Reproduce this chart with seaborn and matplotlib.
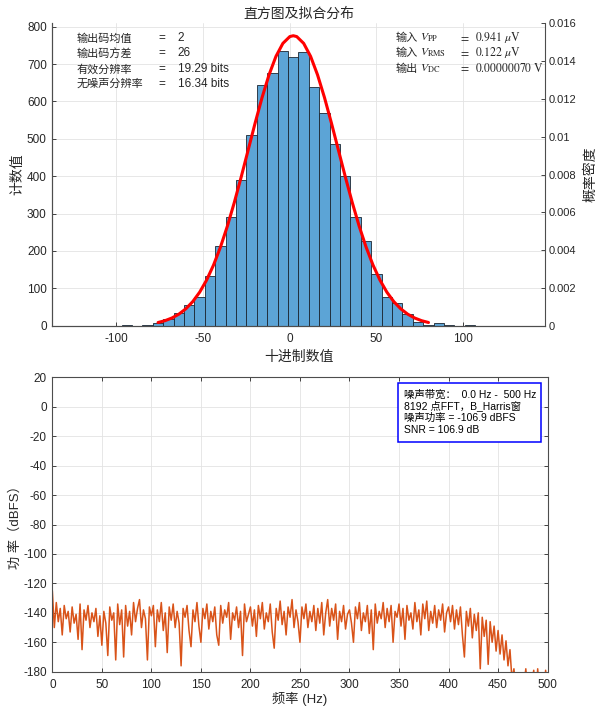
import numpy as np
import pandas as pd
import matplotlib
matplotlib.use('Agg')
import matplotlib.pyplot as plt
import seaborn as sns
from matplotlib.patches import Rectangle

# ---- histogram of output codes (counts, bin width 6) ----
bin_edges = list(range(-97, 108, 6))
bin_counts = [3, 0, 3, 7, 17, 34, 55, 78, 134, 212, 291, 390, 509, 644, 676, 736, 719,
              733, 638, 569, 485, 401, 291, 226, 138, 77, 61, 31, 10, 3, 8, 2, 0, 1]

# fitted normal curve (probability density, right axis)
fit_x = [-76, -72, -68, -64, -60, -56, -52, -48, -44, -40, -36, -32, -28, -24, -20, -16,
         -12, -8, -4, 0, 2, 4, 8, 12, 16, 20, 24, 28, 32, 36, 40, 44, 48, 52, 56, 60, 64,
         68, 72, 76, 80]
fit_pdf = [0.000170, 0.000267, 0.000409, 0.000612, 0.000894, 0.001275, 0.001775, 0.002415,
           0.003209, 0.004161, 0.005274, 0.006526, 0.007886, 0.009306, 0.010727, 0.012074,
           0.013273, 0.014250, 0.014940, 0.015299, 0.015344, 0.015299, 0.014940, 0.014250,
           0.013273, 0.012074, 0.010727, 0.009306, 0.007886, 0.006526, 0.005274, 0.004161,
           0.003209, 0.002415, 0.001775, 0.001275, 0.000894, 0.000612, 0.000409, 0.000267,
           0.000170]

stats_left = [('输出码均值', '2'), ('输出码方差', '26'),
              ('有效分辨率', '19.29 bits'), ('无噪声分辨率', '16.34 bits')]
stats_right = [('输入', r'$V_{\mathrm{PP}}$', r'$0.941\ \mu\mathrm{V}$'),
               ('输入', r'$V_{\mathrm{RMS}}$', r'$0.122\ \mu\mathrm{V}$'),
               ('输出', r'$V_{\mathrm{DC}}$', r'$0.00000070\ \mathrm{V}$')]

# ---- noise spectrum, one value every 2 Hz from 0 to 500 Hz ----
freq_hz = np.arange(0, 501, 2)
power_db = [
    -125, -150, -133, -146, -137, -155, -135, -144, -139, -153, -136, -147, -141, -158, -134,
    -165, -138, -145, -135, -150, -140, -146, -137, -156, -142,
    -162, -139, -147, -169, -136, -145, -140, -172, -134, -148, -138, -170, -135, -149, -139,
    -155, -133, -146, -137, -131, -150, -138, -144, -172, -136,
    -142, -135, -163, -138, -146, -133, -152, -140, -167, -136, -145, -134, -150, -139, -147,
    -176, -137, -143, -135, -152, -163, -138, -146, -133, -149,
    -160, -137, -144, -134, -151, -139, -146, -136, -155, -162, -135, -147, -138, -143, -133,
    -158, -140, -145, -136, -150, -139, -169, -134, -146, -141,
    -136, -149, -138, -156, -135, -144, -133, -151, -140, -146, -134, -153, -164, -137, -145,
    -132, -148, -139, -155, -136, -143, -131, -150, -138, -146,
    -160, -136, -144, -134, -150, -139, -146, -135, -152, -137, -147, -133, -155, -140, -131,
    -149, -137, -145, -134, -158, -139, -146, -135, -151, -141,
    -138, -147, -160, -136, -144, -133, -152, -140, -146, -135, -154, -138, -165, -134, -147,
    -139, -144, -133, -150, -137, -146, -135, -160, -139, -143,
    -134, -149, -137, -158, -135, -145, -140, -151, -133, -146, -138, -155, -134, -144, -132,
    -152, -139, -147, -135, -150, -138, -145, -134, -153, -140,
    -136, -146, -135, -151, -138, -148, -136, -155, -170, -139, -149, -137, -157, -141, -152,
    -140, -178, -143, -156, -145, -175, -146, -160, -149, -166,
    -152, -168, -155, -172, -159, -176, -165, -185, -178, -192, -186, -198, -200, -190, -178,
    -195, -205, -188, -179, -200, -178, -196, -185, -202, -179, -194,
]

noise_lines = ['噪声带宽：  0.0 Hz -  500 Hz', '8192 点FFT，B_Harris窗',
               '噪声功率 = -106.9 dBFS', 'SNR = 106.9 dB']

# ---- style ----
sns.set_style('ticks')
plt.rcParams['font.family'] = ['Liberation Sans', 'Noto Sans CJK SC', 'DejaVu Sans']
plt.rcParams['mathtext.fontset'] = 'stix'
plt.rcParams['axes.unicode_minus'] = False

txt = '#262626'
spine_c = '#4d4d4d'
grid_c = '#e3e3e3'

fig = plt.figure(figsize=(5.96, 7.07), dpi=100)
ax = fig.add_axes([0.0878, 0.5393, 0.826, 0.4277])
ax_sp = fig.add_axes([0.0878, 0.0499, 0.831, 0.4164])

# ---- top: histogram + fit ----
hist_df = pd.DataFrame({
    'code': [(lo + hi) / 2 for lo, hi in zip(bin_edges[:-1], bin_edges[1:])],
    'count': bin_counts,
})
sns.histplot(data=hist_df, x='code', weights='count', bins=bin_edges, ax=ax, stat='count',
             color='#5ca4d6', alpha=1, edgecolor='#1b2631', linewidth=0.6)
ax.set_xlim(-137, 147)
ax.set_ylim(0, 809)
ax.set_xticks([-100, -50, 0, 50, 100])
ax.set_yticks(range(0, 801, 100))
ax.set_axisbelow(True)
ax.grid(True, color=grid_c, lw=0.6)
ax.set_xlabel('十进制数值', fontsize=10, color=txt, labelpad=4)
ax.set_ylabel('计数值', fontsize=10, color=txt)
ax.yaxis.set_label_coords(-0.056, 0.5)
ax.set_title('直方图及拟合分布', fontsize=10, color=txt, pad=4)

ax2 = ax.twinx()
sns.lineplot(x=fit_x, y=fit_pdf, ax=ax2, color='red', lw=2.2, estimator=None, sort=False)
ax2.set_ylim(0, 0.016)
ticks_r = [0, 0.002, 0.004, 0.006, 0.008, 0.01, 0.012, 0.014, 0.016]
ax2.set_yticks(ticks_r)
ax2.set_yticklabels(['0' if t == 0 else f'{t:g}' for t in ticks_r])
ax2.set_ylabel('概率密度', fontsize=10, color=txt)
ax2.yaxis.set_label_coords(1.078, 0.5)

for a in (ax, ax2):
    a.spines['top'].set_visible(False)
    for s in a.spines.values():
        s.set_color(spine_c)
        s.set_linewidth(0.8)
    a.tick_params(direction='in', length=3, width=0.6, labelsize=8.5, colors=txt, pad=4)
ax.tick_params(axis='x', pad=5)
ax2.tick_params(axis='y', labelsize=8, pad=3)
ax.spines['right'].set_visible(False)

row_y = [0.9504, 0.9008, 0.8489, 0.8003]
for (lab, val), y in zip(stats_left, row_y):
    ax.text(0.05, y, lab, transform=ax.transAxes, fontsize=8, color=txt, va='center')
    ax.text(0.216, y, '=', transform=ax.transAxes, fontsize=8.5, color=txt, va='center')
    ax.text(0.2547, y, val, transform=ax.transAxes, fontsize=8.5, color=txt, va='center')

row_y = [0.9524, 0.9028, 0.8512]
for (lab, sym, val), y in zip(stats_right, row_y):
    ax2.text(0.698, y, lab, transform=ax.transAxes, fontsize=8, color=txt, va='center')
    ax2.text(0.746, y, sym, transform=ax.transAxes, fontsize=8.5, color=txt, va='center')
    ax2.text(0.826, y, r'$=$', transform=ax.transAxes, fontsize=8.5, color=txt, va='center')
    ax2.text(0.8586, y, val, transform=ax.transAxes, fontsize=8.5, color=txt, va='center')

# ---- bottom: noise spectrum ----
sns.lineplot(x=freq_hz, y=power_db, ax=ax_sp, color='#d95319', lw=1.1, estimator=None)
ax_sp.set_xlim(0, 500)
ax_sp.set_ylim(-180, 20)
ax_sp.set_xticks(range(0, 501, 50))
ax_sp.set_yticks(range(-180, 21, 20))
ax_sp.grid(True, color=grid_c, lw=0.6)
ax_sp.set_axisbelow(True)
for s in ax_sp.spines.values():
    s.set_visible(True)
    s.set_color(spine_c)
    s.set_linewidth(0.8)
ax_sp.tick_params(direction='in', length=3, width=0.6, labelsize=8.5, colors=txt,
                  top=True, right=True, pad=4)
ax_sp.tick_params(axis='x', pad=5)
ax_sp.set_xlabel('频率 (Hz)', fontsize=9.5, color=txt, labelpad=1)
ax_sp.set_ylabel('功 率（dBFS）', fontsize=9.5, color=txt)
ax_sp.yaxis.set_label_coords(-0.061, 0.5)

ax_sp.add_patch(Rectangle((0.698, 0.781), 0.288, 0.2007, transform=ax_sp.transAxes,
                          facecolor='white', edgecolor='#0000ff', lw=1.1, zorder=5))
for line, y in zip(noise_lines, [0.9423, 0.9035, 0.8628, 0.821]):
    ax_sp.text(0.71, y, line, transform=ax_sp.transAxes, fontsize=7.5, color='black',
               va='center', zorder=6)

fig.savefig('out.png', dpi=100)
